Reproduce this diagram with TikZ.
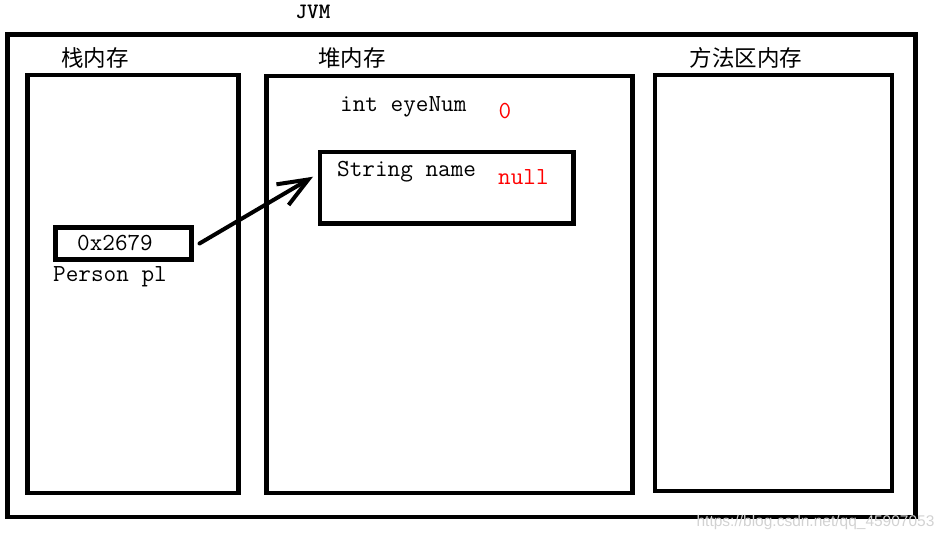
\documentclass[tikz,border=0pt]{standalone}
\usepackage{fontspec}
\usepackage{xcolor}
\usepackage{tikz}
\usetikzlibrary{arrows.meta, positioning}
\newfontfamily\cjk{Noto Sans CJK SC}
\newfontfamily\wmfont{Liberation Sans}

\begin{document}
\begin{tikzpicture}[x=1pt, y=-1pt,
    mem/.style={draw, line width=4.5pt, inner sep=0pt, outer sep=0pt},
    area/.style={font=\cjk\fontsize{22.5}{22.5}\selectfont},
    code/.style={font=\ttfamily\fontsize{24.5}{24.5}\selectfont, inner sep=0pt},
    val/.style={code, text=red},
    ref/.style={line width=4pt, line cap=round, -{Straight Barb[length=30pt, width=24pt, line width=4pt]}}]
\useasboundingbox (0,0) rectangle (948,540);
% JVM frame
\node[mem, minimum width=908pt, minimum height=482pt] (jvm) at (461.5,275.75) {};
\node[code, font=\ttfamily\bfseries\fontsize{22}{22}\selectfont] (jvmlbl) at (313,12) {JVM};
% Memory areas
\node[mem, minimum width=211pt, minimum height=418pt] (stack) at (133,284) {};
\node[mem, minimum width=366pt, minimum height=417pt] (heap) at (449.5,284.5) {};
\node[mem, minimum width=237pt, minimum height=416pt] (method) at (773.5,283) {};
\node[area] (stacklbl) at (95,58) {栈内存};
\node[area] (heaplbl) at (352,58) {堆内存};
\node[area] (methodlbl) at (746,58) {方法区内存};
% Stack: reference variable
\node[mem, minimum width=136pt, minimum height=32pt] (ptr) at (123.5,243.5) {};
\node[code] (ptrval) at (115,243) {0x2679};
\node[code, anchor=west] (ptrname) at (53,277) {Person pl};
% Heap: object fields
\node[code, anchor=west] (eyenum) at (340,107) {int eyeNum};
\node[val] (eyeval) at (505,111) {0};
\node[mem, minimum width=253.5pt, minimum height=71.5pt] (namebox) at (446.75,187.75) {};
\node[code, anchor=west] (namefld) at (337,172) {String name};
\node[val, anchor=west] (nameval) at (498,177) {null};
% Reference arrow
\draw[ref] ([xshift=8pt]ptr.east) -- ([xshift=-7pt, yshift=11pt]namebox.west);
% Watermark
\node[font=\wmfont\fontsize{15.5}{15.5}\selectfont, text=gray!35, anchor=east] (wm) at (938,522) {https://blog.csdn.net/qq\_45907053};
\end{tikzpicture}
\end{document}
